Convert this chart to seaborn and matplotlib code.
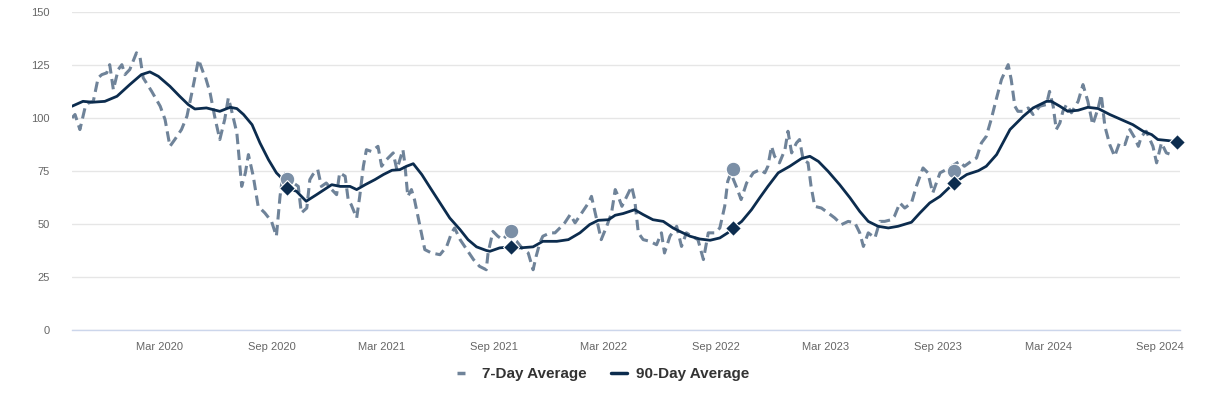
import pandas as pd
import seaborn as sns
import matplotlib.pyplot as plt
import matplotlib.dates as mdates
from matplotlib.lines import Line2D

# === Dati ===
dates_7d = [
    "2019-10-09", "2019-10-14", "2019-10-22", "2019-10-31", "2019-11-05", "2019-11-13",
    "2019-11-21", "2019-11-27", "2019-12-05", "2019-12-10", "2019-12-16", "2019-12-24",
    "2019-12-30", "2020-01-04", "2020-01-12", "2020-01-23", "2020-01-29", "2020-02-03",
    "2020-02-17", "2020-03-02", "2020-03-10", "2020-03-18", "2020-03-26", "2020-04-06",
    "2020-04-15", "2020-04-23", "2020-05-04", "2020-05-12", "2020-05-15", "2020-05-23",
    "2020-05-31", "2020-06-08", "2020-06-16", "2020-06-22", "2020-06-27", "2020-07-06",
    "2020-07-14", "2020-07-20", "2020-07-25", "2020-08-02", "2020-08-10", "2020-08-21",
    "2020-09-01", "2020-09-09", "2020-09-15", "2020-09-20", "2020-09-28", "2020-10-07",
    "2020-10-15", "2020-10-20", "2020-10-29", "2020-11-03", "2020-11-08", "2020-11-16",
    "2020-11-22", "2020-11-30", "2020-12-09", "2020-12-17", "2020-12-22", "2020-12-31",
    "2021-01-05", "2021-01-10", "2021-01-19", "2021-01-24", "2021-01-30", "2021-02-04",
    "2021-02-12", "2021-02-23", "2021-03-01", "2021-03-09", "2021-03-20", "2021-03-26",
    "2021-04-05", "2021-04-08", "2021-04-13", "2021-04-19", "2021-04-24", "2021-05-03",
    "2021-05-11", "2021-05-22", "2021-06-05", "2021-06-16", "2021-06-24", "2021-06-29",
    "2021-07-08", "2021-07-19", "2021-07-30", "2021-08-09", "2021-08-20", "2021-08-23",
    "2021-08-31", "2021-09-08", "2021-09-16", "2021-09-24", "2021-10-09", "2021-10-20",
    "2021-10-28", "2021-11-05", "2021-11-10", "2021-11-16", "2021-11-21", "2021-12-03",
    "2021-12-11", "2021-12-19", "2021-12-27", "2022-01-05", "2022-01-13", "2022-01-24",
    "2022-02-04", "2022-02-09", "2022-02-17", "2022-02-25", "2022-03-06", "2022-03-14",
    "2022-03-20", "2022-03-25", "2022-03-31", "2022-04-08", "2022-04-16", "2022-04-21",
    "2022-04-27", "2022-05-05", "2022-05-16", "2022-05-27", "2022-06-04", "2022-06-09",
    "2022-06-18", "2022-06-29", "2022-07-07", "2022-07-15", "2022-07-24", "2022-08-03",
    "2022-08-12", "2022-08-20", "2022-08-31", "2022-09-08", "2022-09-16", "2022-09-21",
    "2022-09-26", "2022-10-05", "2022-10-13", "2022-10-22", "2022-11-02", "2022-11-13",
    "2022-11-21", "2022-11-26", "2022-12-02", "2022-12-07", "2022-12-15", "2022-12-24",
    "2022-12-29", "2023-01-04", "2023-01-12", "2023-01-17", "2023-01-23", "2023-01-31",
    "2023-02-05", "2023-02-11", "2023-02-22", "2023-03-05", "2023-03-16", "2023-03-27",
    "2023-04-07", "2023-04-18", "2023-04-26", "2023-05-02", "2023-05-10", "2023-05-21",
    "2023-05-29", "2023-06-06", "2023-06-17", "2023-06-22", "2023-07-01", "2023-07-09",
    "2023-07-20", "2023-07-28", "2023-08-08", "2023-08-16", "2023-08-24", "2023-09-05",
    "2023-09-15", "2023-10-07", "2023-10-15", "2023-10-26", "2023-11-04", "2023-11-12",
    "2023-11-20", "2023-11-28", "2023-12-07", "2023-12-15", "2023-12-26", "2023-12-31",
    "2024-01-06", "2024-01-11", "2024-01-20", "2024-01-28", "2024-02-05", "2024-02-16",
    "2024-02-27", "2024-03-03", "2024-03-09", "2024-03-14", "2024-03-20", "2024-03-25",
    "2024-03-31", "2024-04-08", "2024-04-19", "2024-04-27", "2024-05-05", "2024-05-13",
    "2024-05-22", "2024-05-27", "2024-06-02", "2024-06-10", "2024-06-18", "2024-06-26",
    "2024-07-05", "2024-07-13", "2024-07-21", "2024-07-27", "2024-08-01", "2024-08-09",
    "2024-08-20", "2024-08-26", "2024-09-03", "2024-09-11", "2024-09-19",
]
values_7d = [
    100.0, 101.6, 94.5, 105.5, 107.0, 107.8,
    118.9, 120.4, 121.2, 125.1, 113.3, 122.8,
    125.1, 120.4, 122.8, 130.7, 128.3, 118.9,
    112.5, 105.5, 99.2, 86.6, 89.8, 94.5,
    100.8, 111.8, 127.5, 121.2, 119.6, 111.8,
    100.0, 89.8, 99.2, 109.4, 103.9, 92.9,
    67.7, 74.1, 82.7, 72.5, 58.3, 55.2,
    51.2, 44.2, 63.0, 74.1, 72.5, 69.3,
    67.7, 55.2, 57.5, 70.9, 73.3, 75.6,
    67.7, 69.3, 66.2, 63.8, 74.1, 72.5,
    61.5, 59.1, 52.8, 63.0, 77.2, 85.0,
    84.2, 86.6, 77.2, 80.3, 83.5, 75.6,
    85.0, 78.8, 63.0, 66.2, 61.5, 48.9,
    37.9, 36.3, 35.5, 39.4, 45.8, 48.1,
    42.6, 37.9, 33.2, 30.0, 28.4, 36.3,
    46.5, 44.2, 42.6, 45.0, 41.8, 37.9,
    36.3, 28.4, 34.7, 41.0, 44.2, 45.8,
    45.8, 48.1, 50.5, 54.4, 50.5, 55.2,
    59.9, 63.0, 52.8, 42.6, 48.9, 55.2,
    66.2, 63.0, 58.3, 63.0, 67.7, 61.5,
    45.8, 42.6, 41.8, 40.2, 45.8, 36.3,
    44.2, 48.9, 39.4, 45.8, 44.2, 42.6,
    33.2, 45.8, 45.8, 48.1, 58.3, 70.1,
    74.0, 67.7, 61.5, 69.3, 74.1, 75.6,
    74.1, 77.2, 86.6, 81.9, 78.8, 85.0,
    93.7, 83.5, 88.2, 89.8, 80.3, 78.8,
    67.7, 58.3, 57.5, 55.2, 52.8, 49.7,
    51.2, 50.5, 45.8, 39.4, 45.8, 43.4,
    51.2, 51.2, 52.0, 53.6, 59.9, 57.5,
    59.9, 67.7, 76.4, 74.1, 64.6, 74.1,
    75.6, 79.5, 77.2, 79.5, 81.1, 88.2,
    91.3, 99.2, 109.4, 118.1, 125.1, 118.1,
    105.5, 103.1, 103.1, 104.7, 101.6, 105.5,
    106.3, 112.5, 105.5, 94.5, 97.6, 103.1,
    106.3, 102.4, 107.8, 115.7, 107.8, 96.8,
    104.7, 111.0, 96.0, 87.4, 81.9, 88.2,
    87.4, 94.5, 90.6, 86.6, 91.3, 93.7,
    86.6, 78.8, 88.2, 83.5, 82.7,
]

dates_90d = [
    "2019-10-09", "2019-10-27", "2019-11-12", "2019-12-02", "2019-12-22", "2020-01-12",
    "2020-01-31", "2020-02-14", "2020-02-28", "2020-03-18", "2020-04-03", "2020-04-17",
    "2020-04-28", "2020-05-17", "2020-06-08", "2020-06-25", "2020-07-06", "2020-07-17",
    "2020-07-31", "2020-08-13", "2020-08-27", "2020-09-09", "2020-09-20", "2020-09-27",
    "2020-10-12", "2020-10-28", "2020-11-14", "2020-12-09", "2020-12-23", "2021-01-08",
    "2021-01-19", "2021-02-02", "2021-02-18", "2021-03-04", "2021-03-18", "2021-03-31",
    "2021-04-11", "2021-04-22", "2021-05-06", "2021-05-20", "2021-06-05", "2021-06-21",
    "2021-07-08", "2021-07-21", "2021-08-04", "2021-08-20", "2021-08-26", "2021-09-11",
    "2021-09-29", "2021-10-14", "2021-11-05", "2021-11-21", "2021-12-14", "2022-01-02",
    "2022-01-21", "2022-02-06", "2022-02-20", "2022-03-09", "2022-03-20", "2022-04-02",
    "2022-04-21", "2022-05-05", "2022-05-21", "2022-06-07", "2022-06-23", "2022-07-04",
    "2022-07-21", "2022-08-06", "2022-08-23", "2022-09-08", "2022-09-21", "2022-09-30",
    "2022-10-14", "2022-10-30", "2022-11-13", "2022-11-26", "2022-12-13", "2023-01-01",
    "2023-01-20", "2023-02-03", "2023-02-17", "2023-03-05", "2023-03-24", "2023-04-10",
    "2023-04-26", "2023-05-10", "2023-05-26", "2023-06-12", "2023-06-28", "2023-07-20",
    "2023-08-03", "2023-08-19", "2023-09-05", "2023-09-28", "2023-10-19", "2023-11-07",
    "2023-11-20", "2023-12-07", "2023-12-29", "2024-01-20", "2024-02-05", "2024-02-27",
    "2024-03-06", "2024-03-20", "2024-04-02", "2024-04-19", "2024-05-05", "2024-05-22",
    "2024-06-10", "2024-06-29", "2024-07-18", "2024-08-04", "2024-08-18", "2024-08-28",
    "2024-09-14", "2024-09-29",
]
values_90d = [
    105.5, 107.8, 107.4, 107.8, 110.2, 115.7,
    120.4, 121.7, 119.6, 114.9, 110.2, 106.3,
    104.2, 104.7, 103.1, 105.0, 104.4, 101.6,
    96.8, 88.2, 80.3, 74.1, 70.9, 67.0,
    65.4, 60.7, 63.8, 68.5, 67.7, 67.7,
    66.2, 68.5, 70.9, 73.3, 75.3, 75.6,
    77.2, 78.4, 73.3, 67.0, 59.9, 52.8,
    47.3, 42.6, 39.2, 37.5, 37.1, 38.7,
    39.2, 38.7, 39.2, 41.8, 41.8, 42.6,
    45.8, 49.7, 51.7, 52.0, 54.1, 54.9,
    56.7, 54.4, 52.0, 51.2, 48.1, 46.5,
    44.2, 42.9, 42.3, 43.4, 45.8, 48.1,
    51.2, 56.7, 62.5, 67.7, 74.1, 77.2,
    80.8, 81.9, 79.5, 74.8, 68.5, 62.3,
    55.9, 51.2, 48.9, 48.1, 48.9, 50.8,
    55.2, 59.9, 63.0, 69.3, 73.3, 75.1,
    77.2, 82.7, 94.5, 100.8, 104.7, 107.8,
    107.8, 105.5, 103.1, 103.6, 105.0, 104.4,
    101.6, 99.2, 96.8, 93.7, 92.1, 89.8,
    89.3, 88.7,
]

# valori evidenziati a inizio anno fiscale
marker_dates_7d = ["2020-09-27", "2021-09-29", "2022-09-30", "2023-09-28"]
marker_values_7d = [71.4, 46.5, 75.9, 75.1]
marker_dates_90d = ["2020-09-27", "2021-09-29", "2022-09-30", "2023-09-28", "2024-09-29"]
marker_values_90d = [67.0, 39.2, 48.1, 69.3, 88.7]

tick_dates = ["2020-03-01", "2020-09-01", "2021-03-01", "2021-09-01", "2022-03-01",
              "2022-09-01", "2023-03-01", "2023-09-01", "2024-03-01", "2024-09-01"]
y_ticks = [0, 25, 50, 75, 100, 125, 150]

df7 = pd.DataFrame({"date": pd.to_datetime(dates_7d), "value": values_7d})
df90 = pd.DataFrame({"date": pd.to_datetime(dates_90d), "value": values_90d})
m7 = pd.DataFrame({"date": pd.to_datetime(marker_dates_7d), "value": marker_values_7d})
m90 = pd.DataFrame({"date": pd.to_datetime(marker_dates_90d), "value": marker_values_90d})

# === Stile ===
sns.set_style("white")
plt.rcParams['font.family'] = ['Liberation Sans', 'DejaVu Sans']

c_light = "#6f8399"
c_dark = "#0c2c4e"
c_circle = "#7b8fa6"

fig = plt.figure(figsize=(12.06, 3.95), dpi=100)
ax = fig.add_axes([0.0597, 0.1646, 0.9185, 0.8054])

sns.lineplot(data=df7, x="date", y="value", ax=ax, color=c_light, linewidth=2.2,
             dashes=False, zorder=2)
ax.lines[-1].set_dashes((3.4, 1.8))
sns.lineplot(data=df90, x="date", y="value", ax=ax, color=c_dark, linewidth=2.0, zorder=3)

sns.scatterplot(data=m7, x="date", y="value", ax=ax, color=c_circle, s=110,
                marker="o", edgecolor="white", linewidth=0.8, zorder=4, clip_on=False)
sns.scatterplot(data=m90, x="date", y="value", ax=ax, color=c_dark, s=65,
                marker="D", edgecolor="white", linewidth=0.8, zorder=5, clip_on=False)

# === Assi ===
ax.set_ylim(0, 150)
ax.set_yticks(y_ticks)
ax.set_xlim(pd.Timestamp("2019-10-09"), pd.Timestamp("2024-10-03"))
ax.set_xticks(pd.to_datetime(tick_dates))
ax.xaxis.set_major_formatter(mdates.DateFormatter("%b %Y"))
ax.set_xlabel("")
ax.set_ylabel("")

ax.grid(axis="y", color="#e6e6e6", linewidth=1)
ax.grid(axis="x", visible=False)
for side in ["top", "right", "left"]:
    ax.spines[side].set_visible(False)
ax.spines["bottom"].set_color("#ccd6eb")
ax.spines["bottom"].set_linewidth(1)

ax.tick_params(axis="x", colors="#ccd6eb", length=7, width=1, labelcolor="#666666",
               labelsize=8, pad=2)
ax.tick_params(axis="y", length=0, labelcolor="#666666", labelsize=8, pad=16)

# === Legenda ===
handles = [
    Line2D([], [], color=c_light, linewidth=2.5, dashes=(2.3, 6)),
    Line2D([], [], color=c_dark, linewidth=2.5),
]
fig.legend(handles, ["7-Day Average", "90-Day Average"], loc="center",
           bbox_to_anchor=(0.5, 0.053), ncol=2, frameon=False, handlelength=1.05,
           handletextpad=0.6, columnspacing=1.6,
           prop={"weight": "bold", "size": 11})
for t in fig.legends[0].get_texts():
    t.set_color("#333333")

plt.savefig("out.png", dpi=100)
plt.close()
